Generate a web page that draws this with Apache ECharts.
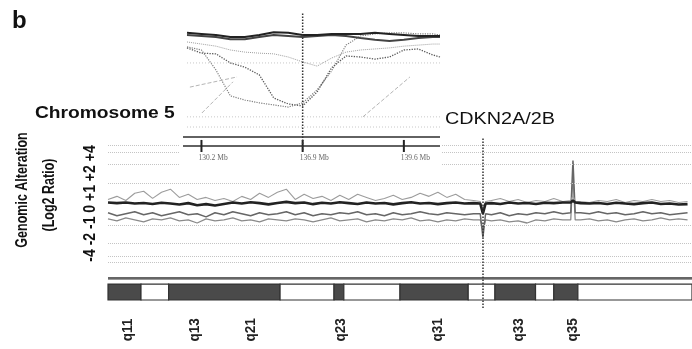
<!DOCTYPE html>
<html>
<head>
<meta charset="utf-8">
<title>Chromosome 5 - Genomic Alteration</title>
<script src="https://cdn.jsdelivr.net/npm/echarts@6/dist/echarts.min.js"></script>
<style>
  html, body { margin: 0; padding: 0; background: #fff; }
  #chart { width: 692px; height: 349px; }
</style>
</head>
<body>
<div id="chart"></div>
<script>
  /** Texts */
  var panelTag = 'b';
  var chromTitle = 'Chromosome 5';
  var geneTitle = 'CDKN2A/2B';
  var yTitle = ['Genomic Alteration', '(Log2 Ratio)'];
  var yTickLabels = ['-4', '-2', '-1', '0', '+1', '+2', '+4'];

  /** Main profile (position in Mb, log2 ratio) */
  var gridLevels = [2.85, 2.51, 1.93, 1.0, -1.05, -1.93, -2.56, -2.85];
  var mainPos = [
    50, 52, 54, 56, 58, 60, 62, 64, 66, 68,
    70, 72, 74, 76, 78, 80, 82, 84, 86, 88,
    90, 92, 94, 96, 98, 100, 102, 104, 106, 108,
    110, 112, 114, 116, 118, 120, 122, 124, 126, 128,
    130, 132, 133.5, 134.1, 134.7, 136, 138, 140, 142, 144,
    146, 148, 150, 152, 153.8, 154.3, 154.8, 156, 158, 160,
    162, 164, 166, 168, 170, 172, 174, 176, 178, 180
  ];
  var sampleDark = [
    0.05, 0.02, 0.05, 0.0, 0.03, -0.02, 0.04, 0.0, -0.05, 0.02,
    -0.08, -0.03, -0.1, -0.02, 0.05, 0.0, 0.06, 0.02, -0.04, 0.03,
    0.08, 0.02, 0.05, -0.03, 0.04, 0.0, 0.06, 0.02, -0.02, 0.05,
    0.0, 0.03, -0.04, 0.02, 0.06, 0.0, 0.03, -0.03, 0.02, 0.05,
    0.0, 0.02, 0.0, -0.5, 0.0, 0.02, -0.02, 0.05, 0.0, 0.03,
    -0.02, 0.04, 0.02, 0.05, 0.05, 0.15, 0.05, 0.02, 0.0, 0.03,
    -0.02, 0.04, 0.0, -0.03, 0.02, 0.05, -0.02, 0.0, -0.05, -0.03
  ];
  var sampleUpper = [
    0.2, 0.35, 0.15, 0.5, 0.6, 0.25, 0.55, 0.7, 0.3, 0.45,
    0.2, 0.3, 0.15, 0.25, 0.1, 0.35, 0.2, 0.5, 0.3, 0.55,
    0.7, 0.2, 0.45, 0.25, 0.35, 0.15, 0.4, 0.2, 0.45, 0.3,
    0.15, 0.25, 0.4, 0.2, 0.3, 0.5, 0.35, 0.55, 0.3, 0.45,
    0.2, 0.15, 0.1, -0.3, 0.1, 0.15, 0.25, 0.1, 0.2, 0.05,
    0.15, 0.1, 0.25, 0.1, 0.15, 0.4, 0.1, 0.1, 0.05, 0.15,
    0.1, 0.2, 0.05, 0.15, 0.1, 0.2, 0.1, 0.15, 0.05, 0.1
  ];
  var sampleLowA = [
    -0.45, -0.6, -0.5, -0.4, -0.55, -0.45, -0.6, -0.5, -0.4, -0.55,
    -0.5, -0.65, -0.45, -0.55, -0.4, -0.5, -0.6, -0.45, -0.55, -0.5,
    -0.4, -0.55, -0.45, -0.6, -0.5, -0.55, -0.45, -0.5, -0.4, -0.55,
    -0.5, -0.6, -0.45, -0.55, -0.5, -0.4, -0.5, -0.55, -0.45, -0.5,
    -0.55, -0.5, -0.5, -1.65, -0.5, -0.55, -0.45, -0.6, -0.5, -0.55,
    -0.45, -0.5, -0.4, -0.5, -0.45, 2.1, -0.45, -0.45, -0.5, -0.4,
    -0.5, -0.45, -0.55, -0.5, -0.4, -0.5, -0.45, -0.55, -0.5, -0.45
  ];
  var sampleLowB = [
    -0.75, -0.85, -0.7, -0.8, -0.9, -0.75, -0.8, -0.7, -0.85, -0.8,
    -0.95, -0.75, -0.85, -0.8, -0.7, -0.85, -0.8, -0.9, -0.75, -0.8,
    -0.85, -0.75, -0.8, -0.9, -0.8, -0.7, -0.85, -0.8, -0.75, -0.9,
    -0.8, -0.85, -0.75, -0.8, -0.7, -0.85, -0.8, -0.9, -0.8, -0.85,
    -0.75, -0.8, -0.8, -1.3, -0.8, -0.85, -0.8, -0.9, -0.85, -0.95,
    -0.8, -0.85, -0.75, -0.8, -0.8, 1.4, -0.8, -0.8, -0.75, -0.85,
    -0.8, -0.9, -0.8, -0.75, -0.85, -0.8, -0.7, -0.8, -0.75, -0.8
  ];
  var cdknPos = 134.1;

  /** Ideogram */
  var bandEdges = [50, 57.4, 63.6, 88.6, 100.7, 102.9, 115.5, 130.8, 136.8, 145.9, 150.0, 155.4, 181];
  var bandStain = [1, 0, 1, 0, 1, 0, 1, 0, 1, 0, 1, 0];
  var bandNames = ['q11', 'q13', 'q21', 'q23', 'q31', 'q33', 'q35'];
  var bandLabelPos = [54.5, 69.5, 82.1, 102.3, 124, 142.2, 154.3];

  /** Inset (kb from CDKN2A, log2 ratio) */
  var insetPos = [-800, -700, -600, -500, -400, -300, -200, -100, 0, 100, 200, 300, 400, 500, 600, 700, 800, 900, 950];
  var insetDarkA = [0.09, 0.06, 0.03, -0.03, -0.03, 0.03, 0.11, 0.09, 0.03, 0.03, 0.06, 0.06, 0.06, 0.09, 0.06, 0.03, 0, 0, 0];
  var insetDarkB = [0.03, 0, -0.03, -0.09, -0.09, -0.03, 0.03, 0, -0.03, 0, 0.03, 0, -0.06, -0.11, -0.14, -0.11, -0.06, -0.03, -0.03];
  var insetDipA = [-0.34, -0.49, -0.51, -0.77, -0.89, -1.11, -1.77, -1.94, -2.0, -1.6, -0.91, -0.57, -0.6, -0.66, -0.6, -0.4, -0.37, -0.54, -0.6];
  var insetDipB = [-0.31, -0.4, -0.97, -1.71, -1.83, -1.91, -1.97, -2.03, -1.91, -1.54, -1.0, -0.26, 0, 0.06, 0.09, 0.09, 0.06, 0.06, 0.03];
  var insetGray = [-0.17, -0.23, -0.29, -0.4, -0.46, -0.49, -0.51, -0.6, -0.74, -0.86, -0.63, -0.46, -0.4, -0.37, -0.34, -0.29, -0.26, -0.23, -0.23];
  var insetFragX = [[-780, -454], [-697, -482], [417, 742]];
  var insetFragY = [[-1.46, -1.17], [-2.2, -1.31], [-2.31, -1.17]];
  var insetLevels = [-0.77, -2.31, -2.6];
  var insetRules = [-2.886, -3.143];
  var insetTickPos = [-700, 0, 700];
  var insetTickLabels = ['130.2 Mb', '136.9 Mb', '139.6 Mb'];

  function pairs(xs, ys) {
    return xs.map(function(x, i) { return [x, ys[i]]; });
  }

  function line(name, xs, ys, color, width, type, inset) {
    return {
      name: name,
      type: 'line',
      xAxisIndex: inset ? 1 : 0,
      yAxisIndex: inset ? 1 : 0,
      zlevel: inset ? 1 : 0,
      z: inset ? 10 : 2,
      data: pairs(xs, ys),
      showSymbol: false,
      silent: true,
      lineStyle: { color: color, width: width, type: type || 'solid' }
    };
  }

  var FONT = '"Liberation Sans", Arial, sans-serif';

  var series = [];

  var lowB = line('lowB', mainPos, sampleLowB, '#8a8a8a', 1.3);
  lowB.markLine = {
    silent: true, symbol: 'none', label: { show: false },
    lineStyle: { type: 'dotted', color: '#c4c4c4', width: 1 },
    data: gridLevels.map(function(v) { return { yAxis: v }; })
  };
  series.push(lowB);
  series.push(line('lowA', mainPos, sampleLowA, '#666', 1.5));
  series.push(line('upper', mainPos, sampleUpper, '#9c9c9c', 1.1));

  var dark = line('dark', mainPos, sampleDark, '#222', 2.6);
  dark.markLine = {
    silent: true, symbol: 'none', label: { show: false },
    data: [
      { yAxis: -3.6, lineStyle: { type: 'solid', color: '#333', width: 1.5 } },
      { yAxis: -3.7, lineStyle: { type: 'solid', color: '#999', width: 1 } },
      { xAxis: cdknPos, lineStyle: { type: 'dotted', color: '#333', width: 1.5 } }
    ]
  };
  series.push(dark);

  // ideogram bands
  var bandData = bandEdges.slice(0, -1).map(function(s, i) { return [s, bandEdges[i + 1], bandStain[i]]; });
  series.push({
    type: 'custom',
    xAxisIndex: 0, yAxisIndex: 0,
    silent: true,
    data: bandData,
    renderItem: function(params, api) {
      var p0 = api.coord([api.value(0), -3.93]);
      var p1 = api.coord([api.value(1), -4.71]);
      return {
        type: 'rect',
        shape: { x: p0[0], y: p0[1], width: p1[0] - p0[0], height: p1[1] - p0[1] },
        style: { fill: api.value(2) ? '#4a4a4a' : '#fff', stroke: '#333', lineWidth: 1.2 }
      };
    }
  });

  // band names
  series.push({
    type: 'custom',
    xAxisIndex: 0, yAxisIndex: 0,
    silent: true,
    data: bandLabelPos.map(function(v) { return [v, 0]; }),
    renderItem: function(params, api) {
      var p = api.coord([api.value(0), -6.17]);
      return {
        type: 'text', x: p[0], y: p[1], rotation: Math.PI / 2, scaleY: 1.15,
        style: { text: bandNames[params.dataIndex], fontSize: 13.5, fontWeight: 'bold', fontFamily: FONT, fill: '#222', align: 'center', verticalAlign: 'middle' }
      };
    }
  });

  // inset: grid rules + the CDKN2A marker (custom, so they stay on the inset layer)
  var ruleData = insetLevels.map(function(v) { return [v, 0]; })
    .concat(insetRules.map(function(v) { return [v, 1]; }));
  series.push({
    type: 'custom',
    xAxisIndex: 1, yAxisIndex: 1,
    zlevel: 1, z: 5,
    silent: true,
    data: ruleData,
    renderItem: function(params, api) {
      var cs = params.coordSys;
      var y = api.coord([0, api.value(0)])[1];
      var solid = api.value(1) === 1;
      return {
        type: 'line',
        shape: { x1: solid ? cs.x - 4 : cs.x, y1: y, x2: cs.x + cs.width, y2: y },
        style: solid ? { stroke: '#2e2e2e', lineWidth: 1.4 } : { stroke: '#c8c8c8', lineWidth: 1, lineDash: [1, 2] }
      };
    }
  });
  series.push({
    type: 'custom',
    xAxisIndex: 1, yAxisIndex: 1,
    zlevel: 1, z: 20,
    silent: true,
    data: [[0, 0]],
    renderItem: function(params, api) {
      var cs = params.coordSys;
      var x = api.coord([api.value(0), 0])[0];
      return {
        type: 'line',
        shape: { x1: x, y1: cs.y + 2, x2: x, y2: cs.y + cs.height },
        style: { stroke: '#333', lineWidth: 1.5, lineDash: [1.5, 1.5] }
      };
    }
  });

  series.push(line('iGray', insetPos, insetGray, '#a0a0a0', 1, 'dotted', true));
  series.push(line('iDipB', insetPos, insetDipB, '#808080', 1.2, 'dotted', true));
  series.push(line('iDipA', insetPos, insetDipA, '#5a5a5a', 1.3, 'dotted', true));
  series.push(line('iDarkB', insetPos, insetDarkB, '#444', 2, 'solid', true));
  series.push(line('iDarkA', insetPos, insetDarkA, '#222', 2, 'solid', true));
  insetFragX.forEach(function(xs, i) {
    series.push(line('iFrag' + i, xs, insetFragY[i], '#b5b5b5', 1, 'dashed', true));
  });

  // inset ticks
  series.push({
    type: 'custom',
    xAxisIndex: 1, yAxisIndex: 1,
    zlevel: 1, z: 10,
    silent: true,
    data: insetTickPos.map(function(v) { return [v, 0]; }),
    renderItem: function(params, api) {
      var x = api.value(0);
      var a = api.coord([x, -2.97]), b = api.coord([x, -3.314]), t = api.coord([x, -3.486]);
      return {
        type: 'group',
        children: [
          { type: 'line', shape: { x1: a[0], y1: a[1], x2: b[0], y2: b[1] }, style: { stroke: '#222', lineWidth: 2 } },
          { type: 'text', x: t[0] - 3, y: t[1], style: { text: insetTickLabels[params.dataIndex], fontSize: 7.5, fontFamily: '"Liberation Serif", serif', fill: '#666', align: 'left', verticalAlign: 'middle' } }
        ]
      };
    }
  });

  var option = {
    animation: false,
    backgroundColor: '#fff',
    grid: [
      { left: 108, top: 138, width: 584, height: 170 },
      { left: 187, top: 11.5, width: 253, height: 140 }
    ],
    xAxis: [
      { gridIndex: 0, type: 'value', min: 50, max: 181, show: false },
      { gridIndex: 1, type: 'value', min: -800, max: 950, show: false }
    ],
    yAxis: [
      { gridIndex: 0, type: 'value', min: -5.1, max: 3.2, show: false },
      { gridIndex: 1, type: 'value', min: -3.3, max: 0.7, show: false }
    ],
    graphic: [
      // white backing behind the zoomed inset, on the inset layer
      { type: 'rect', zlevel: 1, z: 0, silent: true, shape: { x: 179, y: 4, width: 263, height: 162 }, style: { fill: '#fff' } },
      { type: 'text', x: 12, y: 21, style: { text: panelTag, font: 'bold 24px ' + FONT, fill: '#111', verticalAlign: 'middle' } },
      { type: 'text', x: 35, y: 114, scaleX: 1.2, style: { text: chromTitle, font: 'bold 16px ' + FONT, fill: '#111', verticalAlign: 'middle' } },
      { type: 'text', x: 445, y: 119, scaleX: 1.2, style: { text: geneTitle, font: '16.5px ' + FONT, fill: '#111', verticalAlign: 'middle' } },
      { type: 'text', x: 23, y: 190, rotation: Math.PI / 2, scaleY: 1.25, style: { text: yTitle[0], font: 'bold 12.5px ' + FONT, fill: '#111', align: 'center', verticalAlign: 'middle' } },
      { type: 'text', x: 50, y: 195, rotation: Math.PI / 2, scaleY: 1.25, style: { text: yTitle[1], font: 'bold 12.5px ' + FONT, fill: '#111', align: 'center', verticalAlign: 'middle' } },
      { type: 'text', x: 90, y: 203.5, rotation: Math.PI / 2, scaleY: 1.2, style: { text: yTickLabels.join(' '), font: 'bold 14px ' + FONT, fill: '#111', align: 'center', verticalAlign: 'middle' } }
    ],
    series: series
  };

  echarts.init(document.getElementById('chart'), null, { renderer: 'canvas' }).setOption(option);
</script>
</body>
</html>
